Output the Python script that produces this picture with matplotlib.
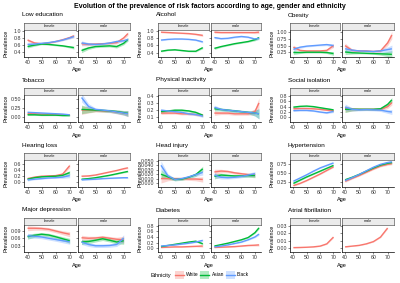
import numpy as np
import matplotlib
matplotlib.use("Agg")
import matplotlib.pyplot as plt
from matplotlib.patches import Rectangle
from matplotlib.lines import Line2D

plt.rcParams['font.family'] = ['Liberation Sans', 'DejaVu Sans']

W, H = 400, 283
nan = float('nan')

AGES = [40, 45, 50, 55, 60, 65, 70, 73]
ETHNICITIES = ["White", "Asian", "Black"]
COLORS = {"White": "#F8766D", "Asian": "#00BA38", "Black": "#619CFF"}
SEXES = ["female", "male"]

# ---------------- data (smoothed prevalence, +/- band) ----------------
# Low education
lowedu_f_white = [0.74, 0.66, 0.64, 0.66, 0.70, 0.75, 0.81, 0.86]
lowedu_f_asian = [0.56, 0.60, 0.63, 0.62, 0.60, 0.58, 0.55, 0.53]
lowedu_f_black = [0.62, 0.63, 0.65, 0.67, 0.70, 0.74, 0.80, 0.84]
lowedu_m_white = [0.64, 0.62, 0.63, 0.64, 0.65, 0.67, 0.80, 0.92]
lowedu_m_asian = [0.45, 0.52, 0.56, 0.57, 0.58, 0.56, 0.65, 0.76]
lowedu_m_black = [0.66, 0.63, 0.62, 0.63, 0.66, 0.70, 0.72, 0.76]
lowedu_f_se = [0.04, 0.03, 0.02, 0.02, 0.02, 0.02, 0.03, 0.04]
lowedu_m_se = [0.06, 0.04, 0.03, 0.03, 0.03, 0.04, 0.04, 0.05]
# Alcohol
alcohol_f_white = [0.97, 0.96, 0.95, 0.94, 0.93, 0.91, 0.88, nan]
alcohol_f_asian = [0.44, 0.47, 0.48, 0.46, 0.44, 0.44, 0.54, nan]
alcohol_f_black = [0.75, 0.77, 0.78, 0.78, 0.77, 0.75, 0.70, nan]
alcohol_m_white = [0.97, 0.96, 0.96, 0.96, 0.96, 0.96, 0.96, 0.97]
alcohol_m_asian = [0.52, 0.57, 0.61, 0.65, 0.68, 0.71, 0.76, 0.82]
alcohol_m_black = [0.82, 0.79, 0.80, 0.83, 0.85, 0.83, 0.78, 0.80]
alcohol_f_se = [0.02, 0.015, 0.015, 0.015, 0.015, 0.02, 0.03, nan]
alcohol_m_se = [0.03, 0.02, 0.02, 0.02, 0.02, 0.02, 0.03, 0.04]
# Obesity
obesity_f_white = [0.44, 0.32, 0.30, 0.30, 0.30, 0.32, 0.50, nan]
obesity_f_asian = [0.24, 0.24, 0.25, 0.25, 0.25, 0.24, 0.20, nan]
obesity_f_black = [0.36, 0.44, 0.48, 0.50, 0.52, 0.54, 0.50, nan]
obesity_m_white = [0.50, 0.32, 0.30, 0.30, 0.28, 0.30, 0.60, 0.90]
obesity_m_asian = [0.26, 0.23, 0.22, 0.21, 0.20, 0.19, 0.18, 0.17]
obesity_m_black = [0.38, 0.33, 0.30, 0.29, 0.28, 0.30, 0.35, 0.38]
obesity_f_se = [0.08, 0.04, 0.03, 0.03, 0.03, 0.04, 0.07, nan]
obesity_m_se = [0.10, 0.05, 0.03, 0.03, 0.03, 0.05, 0.10, 0.14]
# Tobacco
tobacco_f_white = [0.10, 0.10, 0.09, 0.09, 0.08, 0.07, 0.07, nan]
tobacco_f_asian = [0.07, 0.07, 0.06, 0.06, 0.06, 0.05, 0.05, nan]
tobacco_f_black = [0.14, 0.13, 0.12, 0.11, 0.10, 0.09, 0.07, nan]
tobacco_m_white = [0.20, 0.20, 0.19, 0.18, 0.17, 0.15, 0.12, 0.10]
tobacco_m_asian = [0.22, 0.21, 0.20, 0.19, 0.18, 0.16, 0.13, 0.11]
tobacco_m_black = [0.55, 0.30, 0.22, 0.20, 0.18, 0.15, 0.12, 0.10]
tobacco_f_se = [0.02, 0.015, 0.015, 0.015, 0.015, 0.015, 0.02, nan]
tobacco_m_se = [0.12, 0.08, 0.04, 0.04, 0.04, 0.05, 0.06, 0.08]
# Physical inactivity
inact_f_white = [0.16, 0.16, 0.16, 0.15, 0.15, 0.14, 0.13, nan]
inact_f_asian = [0.18, 0.19, 0.20, 0.20, 0.19, 0.17, 0.13, nan]
inact_f_black = [0.20, 0.19, 0.18, 0.17, 0.15, 0.14, 0.12, nan]
inact_m_white = [0.16, 0.16, 0.16, 0.15, 0.15, 0.15, 0.18, 0.30]
inact_m_asian = [0.22, 0.21, 0.20, 0.19, 0.18, 0.17, 0.16, 0.15]
inact_m_black = [0.24, 0.21, 0.20, 0.19, 0.18, 0.17, 0.16, 0.15]
inact_f_se = [0.02, 0.015, 0.015, 0.015, 0.015, 0.015, 0.02, nan]
inact_m_se = [0.03, 0.02, 0.02, 0.02, 0.02, 0.02, 0.04, 0.07]
# Social isolation
social_f_white = [0.32, 0.33, 0.33, 0.32, 0.30, 0.27, 0.25, nan]
social_f_asian = [0.38, 0.41, 0.42, 0.40, 0.36, 0.32, 0.28, nan]
social_f_black = [0.25, 0.26, 0.26, 0.24, 0.20, 0.17, 0.22, nan]
social_m_white = [0.32, 0.30, 0.30, 0.30, 0.30, 0.30, 0.40, 0.55]
social_m_asian = [0.30, 0.30, 0.30, 0.30, 0.30, 0.32, 0.48, 0.65]
social_m_black = [0.38, 0.30, 0.28, 0.29, 0.28, 0.27, 0.22, 0.20]
social_f_se = [0.03, 0.025, 0.025, 0.025, 0.025, 0.03, 0.04, nan]
social_m_se = [0.12, 0.06, 0.04, 0.04, 0.04, 0.05, 0.07, 0.09]
# Hearing loss
hearing_f_white = [0.12, 0.17, 0.20, 0.21, 0.22, 0.27, 0.55, nan]
hearing_f_asian = [0.10, 0.15, 0.18, 0.19, 0.20, 0.23, 0.32, nan]
hearing_f_black = [0.08, 0.10, 0.12, 0.14, 0.15, 0.17, 0.22, nan]
hearing_m_white = [0.20, 0.21, 0.24, 0.29, 0.34, 0.39, 0.45, 0.48]
hearing_m_asian = [0.10, 0.12, 0.15, 0.19, 0.23, 0.28, 0.33, 0.36]
hearing_m_black = [0.08, 0.09, 0.10, 0.12, 0.13, 0.14, 0.15, 0.15]
hearing_f_se = [0.04, 0.02, 0.02, 0.02, 0.02, 0.04, 0.07, nan]
hearing_m_se = [0.02, 0.015, 0.015, 0.015, 0.015, 0.02, 0.02, 0.03]
# Head injury
head_f_white = [0.010, 0.010, 0.010, 0.010, 0.009, 0.009, 0.008, nan]
head_f_asian = [0.020, 0.014, 0.008, 0.009, 0.013, 0.019, 0.032, nan]
head_f_black = [0.040, 0.016, 0.008, 0.010, 0.014, 0.019, 0.024, nan]
head_m_white = [0.025, 0.027, 0.026, 0.023, 0.021, 0.019, 0.018, nan]
head_m_asian = [0.015, 0.018, 0.017, 0.016, 0.016, 0.017, 0.017, nan]
head_m_black = [0.018, 0.013, 0.012, 0.013, 0.015, 0.018, 0.021, nan]
head_f_se = [0.010, 0.005, 0.003, 0.003, 0.003, 0.004, 0.006, nan]
head_m_se = [0.006, 0.004, 0.003, 0.003, 0.003, 0.004, 0.005, nan]
# Hypertension
hyper_f_white = [0.16, 0.22, 0.30, 0.39, 0.48, 0.58, 0.68, nan]
hyper_f_asian = [0.22, 0.31, 0.40, 0.48, 0.56, 0.64, 0.72, nan]
hyper_f_black = [0.28, 0.37, 0.46, 0.56, 0.65, 0.72, 0.79, nan]
hyper_m_white = [0.28, 0.36, 0.44, 0.53, 0.62, 0.70, 0.75, 0.77]
hyper_m_asian = [0.32, 0.39, 0.47, 0.56, 0.65, 0.73, 0.78, 0.80]
hyper_m_black = [0.30, 0.38, 0.47, 0.57, 0.67, 0.75, 0.80, 0.82]
hyper_f_se = [0.02, 0.015, 0.015, 0.015, 0.015, 0.015, 0.02, nan]
hyper_m_se = [0.03, 0.02, 0.02, 0.02, 0.02, 0.02, 0.03, 0.03]
# Major depression
depr_f_white = [0.100, 0.100, 0.099, 0.096, 0.089, 0.082, 0.076, nan]
depr_f_asian = [0.066, 0.072, 0.076, 0.073, 0.066, 0.058, 0.050, nan]
depr_f_black = [0.070, 0.068, 0.065, 0.060, 0.055, 0.050, 0.046, nan]
depr_m_white = [0.062, 0.060, 0.061, 0.064, 0.060, 0.056, 0.054, nan]
depr_m_asian = [0.045, 0.047, 0.052, 0.058, 0.052, 0.045, 0.050, nan]
depr_m_black = [0.045, 0.035, 0.030, 0.030, 0.031, 0.035, 0.060, nan]
depr_f_se = [0.010, 0.008, 0.007, 0.007, 0.007, 0.008, 0.010, nan]
depr_m_se = [0.010, 0.008, 0.007, 0.007, 0.007, 0.008, 0.014, nan]
# Diabetes
diab_f_white = [0.03, 0.04, 0.05, 0.05, 0.06, 0.07, 0.08, nan]
diab_f_asian = [0.06, 0.10, 0.14, 0.18, 0.22, 0.25, 0.16, nan]
diab_f_black = [0.08, 0.10, 0.12, 0.15, 0.18, 0.22, 0.28, nan]
diab_m_white = [0.03, 0.04, 0.05, 0.06, 0.08, 0.10, 0.11, 0.12]
diab_m_asian = [0.08, 0.13, 0.18, 0.24, 0.30, 0.38, 0.55, 0.72]
diab_m_black = [0.05, 0.08, 0.12, 0.17, 0.22, 0.30, 0.40, 0.50]
diab_f_se = [0.015, 0.015, 0.015, 0.015, 0.015, 0.02, 0.04, nan]
diab_m_se = [0.015, 0.015, 0.015, 0.015, 0.02, 0.02, 0.03, 0.04]
# Atrial fibrillation (White only)
afib_f_white = [0.0010, 0.0012, 0.0015, 0.0020, 0.0030, 0.0060, 0.0150, nan]
afib_m_white = [0.0020, 0.0030, 0.0040, 0.0060, 0.0090, 0.0150, 0.0270, nan]
afib_f_se = [0.0004, 0.0004, 0.0004, 0.0004, 0.0005, 0.0007, 0.0010, nan]
afib_m_se = [0.0004, 0.0004, 0.0004, 0.0005, 0.0006, 0.0008, 0.0010, nan]

# panel titles, y breaks, y tick labels
TITLES = ["Low education", "Alcohol", "Obesity", "Tobacco", "Physical inactivity",
          "Social isolation", "Hearing loss", "Head injury", "Hypertension",
          "Major depression", "Diabetes", "Atrial fibrillation"]
YTICKS = [[0.4, 0.6, 0.8, 1.0], [0.4, 0.6, 0.8, 1.0], [0.25, 0.5, 0.75, 1.0],
          [0.0, 0.25, 0.5], [0.1, 0.2, 0.3, 0.4], [0.0, 0.2, 0.4, 0.6, 0.8],
          [0.0, 0.2, 0.4, 0.6], [0.0, 0.01, 0.02, 0.03, 0.04, 0.05], [0.25, 0.5, 0.75],
          [0.03, 0.06, 0.09], [0.0, 0.2, 0.4, 0.6, 0.8], [0.0, 0.01, 0.02, 0.03]]
YLABELS = [["0.4", "0.6", "0.8", "1.0"], ["0.4", "0.6", "0.8", "1.0"],
           ["0.25", "0.50", "0.75", "1.00"], ["0.00", "0.25", "0.50"],
           ["0.1", "0.2", "0.3", "0.4"], ["0.0", "0.2", "0.4", "0.6", "0.8"],
           ["0.0", "0.2", "0.4", "0.6"],
           ["0.000", "0.010", "0.020", "0.030", "0.040", "0.050"],
           ["0.25", "0.50", "0.75"], ["0.03", "0.06", "0.09"],
           ["0.0", "0.2", "0.4", "0.6", "0.8"], ["0.00", "0.01", "0.02", "0.03"]]
XTICKS = [40, 50, 60, 70]

SERIES = [
    ((lowedu_f_white, lowedu_f_asian, lowedu_f_black, lowedu_f_se),
     (lowedu_m_white, lowedu_m_asian, lowedu_m_black, lowedu_m_se)),
    ((alcohol_f_white, alcohol_f_asian, alcohol_f_black, alcohol_f_se),
     (alcohol_m_white, alcohol_m_asian, alcohol_m_black, alcohol_m_se)),
    ((obesity_f_white, obesity_f_asian, obesity_f_black, obesity_f_se),
     (obesity_m_white, obesity_m_asian, obesity_m_black, obesity_m_se)),
    ((tobacco_f_white, tobacco_f_asian, tobacco_f_black, tobacco_f_se),
     (tobacco_m_white, tobacco_m_asian, tobacco_m_black, tobacco_m_se)),
    ((inact_f_white, inact_f_asian, inact_f_black, inact_f_se),
     (inact_m_white, inact_m_asian, inact_m_black, inact_m_se)),
    ((social_f_white, social_f_asian, social_f_black, social_f_se),
     (social_m_white, social_m_asian, social_m_black, social_m_se)),
    ((hearing_f_white, hearing_f_asian, hearing_f_black, hearing_f_se),
     (hearing_m_white, hearing_m_asian, hearing_m_black, hearing_m_se)),
    ((head_f_white, head_f_asian, head_f_black, head_f_se),
     (head_m_white, head_m_asian, head_m_black, head_m_se)),
    ((hyper_f_white, hyper_f_asian, hyper_f_black, hyper_f_se),
     (hyper_m_white, hyper_m_asian, hyper_m_black, hyper_m_se)),
    ((depr_f_white, depr_f_asian, depr_f_black, depr_f_se),
     (depr_m_white, depr_m_asian, depr_m_black, depr_m_se)),
    ((diab_f_white, diab_f_asian, diab_f_black, diab_f_se),
     (diab_m_white, diab_m_asian, diab_m_black, diab_m_se)),
    ((afib_f_white, None, None, afib_f_se),
     (afib_m_white, None, None, afib_m_se)),
]

# ---------------- layout (pixels) ----------------
COLX = [[(24, 76), (78, 130)], [(157.5, 209), (211, 261)], [(290, 339.5), (341.5, 394)]]
ROW_STRIP_TOP = [22.5, 87.5, 152.5, 217.5]
STRIP_H = 7.5
PANEL_H = 27.0
YLIMS = [(0.27, 1.02), (0.28, 1.03), (0.07, 1.09), (-0.13, 0.62), (0.037, 0.41),
         (-0.17, 0.83), (-0.16, 0.74), (-0.009, 0.052), (0.12, 0.87), (0.005, 0.113),
         (-0.13, 0.82), (-0.0048, 0.031)]
XLIM_DEFAULT = (37.5, 74.5)

fig = plt.figure(figsize=(W / 100, H / 100), dpi=100)


def px_axes(x0, x1, y0, y1):
    return fig.add_axes([x0 / W, 1 - y1 / H, (x1 - x0) / W, (y1 - y0) / H])


fig.text(210 / W, 1 - 6 / H,
         "Evolution of the prevalence of risk factors according to age, gender and ethnicity",
         ha="center", va="center", fontsize=5.0, fontweight="bold")

ages = np.array(AGES, dtype=float)
for i, title in enumerate(TITLES):
    r, c = divmod(i, 3)
    st = ROW_STRIP_TOP[r]
    pt = st + STRIP_H
    pb = pt + PANEL_H
    for s, (x0, x1) in enumerate(COLX[c]):
        ax = px_axes(x0, x1, pt, pb)
        white, asian, black, se = SERIES[i][s]
        se = np.array(se, dtype=float)
        for eth, vals in zip(ETHNICITIES, (white, asian, black)):
            if vals is None:
                continue
            y = np.array(vals, dtype=float)
            m = ~np.isnan(y)
            col = COLORS[eth]
            ax.fill_between(ages[m], (y - se)[m], (y + se)[m], color=col, alpha=0.3, lw=0)
            ax.plot(ages[m], y[m], color=col, lw=1.0, solid_capstyle="butt")
        ax.set_xlim(*XLIM_DEFAULT)
        ax.set_ylim(*YLIMS[i])
        ax.set_xticks(XTICKS)
        ax.set_xticklabels([str(t) for t in XTICKS])
        ax.set_yticks(YTICKS[i])
        if s == 0:
            ax.set_yticklabels(YLABELS[i])
        else:
            ax.set_yticklabels([])
        for sp in ("top", "right"):
            ax.spines[sp].set_visible(False)
        for sp in ("left", "bottom"):
            ax.spines[sp].set_linewidth(0.5)
            ax.spines[sp].set_color("black")
        ax.tick_params(length=1.4, width=0.4, pad=0.8, labelsize=3.8,
                       color="#333333", labelcolor="#333333")
        ax.patch.set_alpha(0)
        # strip
        sax = px_axes(x0, x1, st, pt)
        sax.set_facecolor("#EBEBEB")
        sax.set_xticks([])
        sax.set_yticks([])
        for sp in sax.spines.values():
            sp.set_linewidth(0.4)
            sp.set_color("#333333")
        sax.text(0.5, 0.5, SEXES[s], ha="center", va="center", fontsize=2.8,
                 color="#1A1A1A", transform=sax.transAxes)
    fx0 = COLX[c][0][0]
    fx1 = COLX[c][1][1]
    fig.text((fx0 - 2) / W, 1 - (st - 7.5) / H, title, ha="left", va="center", fontsize=4.6)
    fig.text((fx0 - 18) / W, 1 - (pt + PANEL_H / 2) / H, "Prevalence", ha="center",
             va="center", rotation=90, fontsize=3.9)
    fig.text(((fx0 + fx1) / 2) / W, 1 - (pb + 13) / H, "Age", ha="center", va="center",
             fontsize=4.0)

# legend
ly = 275
fig.text(150.5 / W, 1 - ly / H, "Ethnicity", ha="left", va="center", fontsize=3.9)
for eth, kx, tx in zip(ETHNICITIES, (175, 200, 226), (186, 211.5, 237)):
    col = COLORS[eth]
    fig.add_artist(Rectangle((kx / W, 1 - (ly + 4) / H), 9 / W, 8 / H,
                             transform=fig.transFigure, facecolor=col, alpha=0.3, lw=0))
    fig.add_artist(Line2D([kx / W, (kx + 9) / W], [1 - ly / H, 1 - ly / H],
                          transform=fig.transFigure, color=col, lw=1.0))
    fig.text(tx / W, 1 - ly / H, eth, ha="left", va="center", fontsize=3.5)

fig.savefig("out.png", dpi=100)
